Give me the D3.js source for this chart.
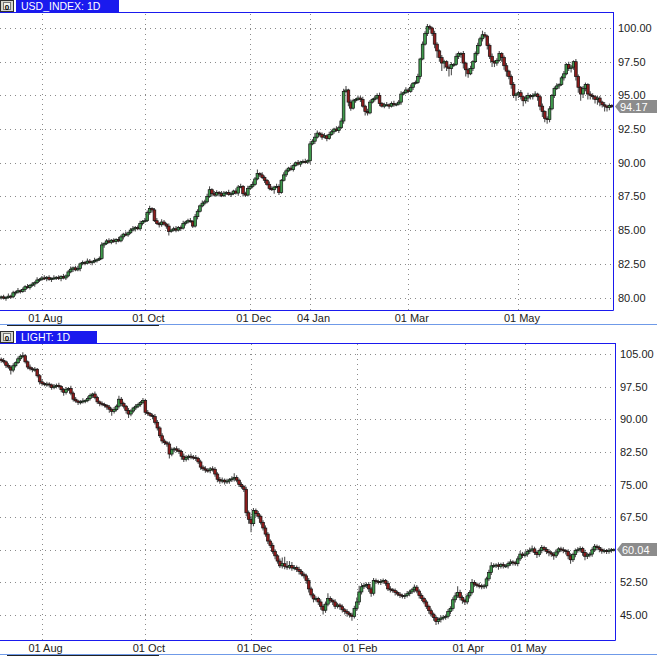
<!DOCTYPE html>
<html><head><meta charset="utf-8">
<script src="https://cdn.jsdelivr.net/npm/d3@7"></script>
<style>
body{margin:0;background:#fff}
svg{display:block}
text{font-family:"Liberation Sans",Arial,sans-serif}
</style>
</head><body>
<svg id="c" width="657" height="657"></svg>
<script>
// ---------------- USD_INDEX data ----------------
const usdTitle = "USD_INDEX: 1D";
const usdTickLabels = ["01 Aug","01 Oct","01 Dec","04 Jan","01 Mar","01 May"];
const usdTickIdx = [17,60,104,129,170,216];
const usdYTicks = [80,82.5,85,87.5,90,92.5,95,97.5,100];
const usdFirstOpen = 80.0;
const usdLast = 94.17;
const usdClose = [
80.05,79.95,80.00,80.10,80.05,80.35,80.40,80.50,80.45,80.60,
80.80,80.75,80.90,81.00,81.10,81.30,81.35,81.45,81.40,81.50,
81.35,81.40,81.45,81.50,81.40,81.55,81.45,81.60,81.90,82.10,
82.20,82.05,82.15,82.50,82.60,82.55,82.70,82.60,82.65,82.75,
82.80,82.90,83.90,84.00,84.20,84.10,84.25,84.15,84.30,84.20,
84.50,84.70,84.65,84.80,85.00,85.10,85.20,85.10,85.50,85.65,
85.70,86.30,86.60,86.50,85.70,85.50,85.40,85.60,85.45,85.30,
84.90,85.00,85.10,85.00,85.20,85.15,85.50,85.60,85.70,85.65,
85.30,86.00,86.40,86.80,87.00,87.10,87.50,88.00,87.70,87.60,
87.80,87.70,87.55,87.75,87.80,87.65,87.70,87.90,87.75,88.20,
88.25,87.70,87.60,88.10,88.25,88.40,88.80,89.20,89.10,88.90,
88.70,88.40,88.10,88.00,88.20,88.25,87.80,88.70,89.10,89.40,
89.60,89.50,89.80,90.00,89.90,90.05,90.10,90.05,90.15,91.40,
91.60,91.90,92.20,92.10,91.90,92.00,91.80,92.10,92.30,92.50,
92.40,92.60,93.10,95.30,95.40,94.50,94.05,94.60,94.70,94.80,
94.70,94.20,93.80,93.70,94.50,94.70,94.80,95.00,94.40,94.20,
94.30,94.30,94.20,94.40,94.30,94.35,94.50,95.10,95.20,95.40,
95.30,95.60,95.90,95.95,96.40,97.70,98.80,99.60,100.10,100.00,
99.60,98.80,98.30,97.80,97.40,97.50,97.10,97.00,97.30,97.30,
97.90,98.10,98.10,97.40,96.90,96.60,97.00,97.50,98.10,98.70,
99.20,99.50,99.40,98.70,97.90,97.50,97.40,97.60,98.10,97.80,
97.20,96.80,96.40,95.80,95.00,95.10,95.20,94.90,94.60,94.80,
95.00,94.90,95.00,95.10,94.90,94.20,93.80,93.30,93.20,94.00,
95.00,95.50,95.70,95.80,96.30,96.60,97.30,97.00,97.10,97.50,
96.40,95.60,95.10,95.50,95.80,95.10,95.00,94.90,94.70,94.80,
94.50,94.30,94.20,94.10,94.25,94.17];
const usdWickUp = [
.1,.15,.1,.2,.1,.15,.1,.2,.1,.15,
.1,.2,.1,.15,.1,.2,.1,.15,.2,.1,
.15,.1,.2,.1,.15,.1,.2,.1,.15,.2,
.1,.15,.2,.1,.15,.1,.2,.15,.1,.2,
.1,.15,.2,.1,.15,.2,.1,.15,.1,.2,
.15,.1,.2,.1,.15,.2,.1,.15,.2,.1,
.2,.15,.2,.1,.15,.2,.1,.2,.15,.1,
.2,.1,.15,.2,.1,.15,.2,.1,.15,.2,
.1,.2,.15,.1,.2,.15,.2,.25,.1,.2,
.15,.1,.2,.15,.1,.2,.15,.1,.2,.15,
.2,.1,.15,.2,.1,.2,.15,.3,.1,.2,
.15,.1,.2,.15,.1,.2,.15,.1,.2,.15,
.1,.2,.15,.1,.2,.1,.15,.2,.1,.2,
.15,.3,.2,.1,.15,.2,.1,.2,.15,.1,
.2,.15,.2,.2,.3,.1,.2,.15,.1,.2,
.15,.2,.1,.2,.15,.1,.2,.15,.2,.1,
.15,.2,.1,.15,.2,.1,.15,.2,.1,.2,
.15,.2,.1,.15,.2,.1,.2,.15,.2,.15,
.1,.2,.15,.1,.2,.15,.1,.2,.15,.1,
.2,.15,.1,.2,.1,.15,.2,.1,.15,.2,
.15,.3,.2,.1,.15,.2,.1,.15,.2,.1,
.15,.2,.1,.15,.2,.1,.15,.2,.1,.15,
.2,.1,.15,.2,.1,.15,.2,.1,.15,.2,
.1,.15,.2,.1,.15,.2,.1,.2,.15,.1,
.2,.15,.1,.2,.15,.1,.2,.15,.1,.2,
.15,.1,.2,.1,.15,.1];
const usdWickDn = [
.15,.1,.2,.1,.15,.1,.2,.1,.15,.1,
.2,.1,.15,.1,.2,.1,.15,.1,.1,.2,
.1,.2,.1,.15,.1,.2,.1,.15,.1,.1,
.2,.1,.1,.2,.1,.15,.1,.1,.2,.1,
.15,.1,.1,.2,.1,.1,.15,.1,.2,.1,
.1,.2,.1,.15,.1,.1,.2,.1,.1,.15,
.1,.1,.15,.2,.1,.1,.2,.15,.1,.2,
.3,.1,.1,.15,.1,.2,.1,.15,.1,.1,
.15,.1,.2,.1,.1,.15,.1,.1,.2,.1,
.1,.2,.1,.1,.15,.1,.2,.1,.1,.2,
.1,.2,.15,.1,.1,.15,.1,.1,.15,.1,
.2,.1,.15,.1,.3,.1,.2,.1,.1,.15,
.1,.1,.15,.1,.1,.2,.1,.1,.15,.2,
.1,.2,.1,.15,.2,.1,.2,.1,.1,.15,
.1,.2,.1,.2,.1,.3,.2,.1,.15,.1,
.2,.1,.3,.2,.1,.1,.15,.1,.2,.1,
.15,.1,.2,.1,.15,.1,.1,.2,.1,.1,
.15,.1,.2,.1,.1,.2,.1,.1,.2,.15,
.2,.3,.5,.3,.6,.4,.3,.6,.5,.2,
.1,.2,.3,.4,.5,.3,.1,.2,.1,.15,
.1,.2,.15,.3,.2,.4,.3,.2,.1,.3,
.3,.4,.2,.3,.2,.4,.3,.2,.4,.2,
.3,.2,.2,.1,.3,.3,.4,.3,.3,.2,
.1,.2,.1,.2,.1,.2,.1,.2,.3,.2,
.3,.4,.5,.3,.2,.4,.3,.2,.3,.4,
.3,.2,.4,.3,.2,.1];

// ---------------- LIGHT data ----------------
const oilTitle = "LIGHT: 1D";
const oilTickLabels = ["01 Aug","01 Oct","01 Dec","01 Feb","01 Apr","01 May"];
const oilTickIdx = [17,60,104,148,193,218];
const oilYTicks = [45,52.5,60,67.5,75,82.5,90,97.5,105];
const oilFirstOpen = 103.8;
const oilLast = 60.04;
const oilClose = [
103.5,103.2,102.4,102.0,101.3,102.3,103.0,103.9,104.5,104.6,
103.2,102.0,101.6,101.4,101.5,100.0,98.6,98.2,98.0,98.1,
97.9,97.3,97.6,97.8,97.5,96.8,96.2,96.9,97.1,96.0,
94.6,94.2,93.9,94.0,94.2,94.3,94.8,95.5,95.8,95.0,
94.0,93.6,93.4,93.2,92.8,92.3,91.8,92.2,93.0,94.6,
93.6,93.0,92.0,91.2,91.9,92.6,93.0,93.4,93.9,94.3,
91.6,91.3,90.9,90.6,89.3,88.0,86.2,85.0,84.6,84.3,
82.0,83.0,83.2,82.9,82.6,81.5,80.8,81.2,81.5,81.3,
81.2,81.0,80.2,79.0,78.6,78.3,78.2,78.6,78.5,77.4,
76.2,75.8,76.0,75.6,75.8,76.1,76.3,76.6,76.0,75.0,
74.5,73.9,68.5,67.0,66.0,69.0,68.3,67.7,66.3,65.0,
63.6,62.0,61.0,59.6,58.6,57.4,56.3,56.8,56.2,56.0,
56.4,55.8,55.9,55.5,55.0,54.4,54.0,52.9,51.0,49.6,
48.7,48.8,48.0,47.0,46.1,47.5,48.8,48.4,48.0,47.0,
47.3,46.9,46.2,45.8,45.4,45.0,44.7,46.5,48.0,50.3,
51.5,51.8,52.0,51.0,50.0,52.9,52.7,52.5,52.7,52.9,
52.3,51.0,50.8,50.6,50.2,49.8,49.5,49.3,49.5,49.9,
50.3,50.8,51.4,50.5,49.5,48.8,48.0,47.0,46.0,45.2,
44.4,43.5,44.0,44.3,44.5,44.7,45.8,46.5,48.5,49.4,
50.2,49.0,48.4,48.0,49.4,50.2,52.5,52.1,51.8,51.7,
51.5,51.7,53.3,54.8,56.3,56.4,56.5,56.2,56.6,56.3,
56.3,56.8,57.2,57.0,56.8,57.9,59.0,58.7,59.0,59.6,
59.9,60.2,59.4,58.9,59.8,60.5,60.1,59.6,59.3,59.0,
58.6,59.5,60.2,60.0,59.8,59.6,58.6,57.7,58.9,59.8,
60.0,60.3,59.4,58.5,58.8,59.0,60.0,60.8,60.5,60.1,
59.7,59.8,59.6,59.9,60.0,60.04];
const oilWickUp = [
.4,.6,.3,.5,.4,.6,.3,.5,.4,.8,
.4,.3,.6,.4,.5,.3,.4,.6,.3,.5,
.4,.3,.5,.4,.6,.3,.4,.5,.3,.6,
.4,.5,.3,.4,.6,.3,.5,.4,.3,.6,
.4,.3,.5,.4,.3,.5,.4,.6,.4,.8,
.5,.4,.3,.6,.4,.3,.5,.4,.3,.6,
.4,.5,.3,.4,.6,.5,.4,.6,.5,.4,
.6,.5,.4,.6,.5,.4,.6,.5,.4,.6,
.5,.6,.4,.5,.4,.6,.5,.4,.6,.5,
.4,.5,.6,.4,.5,.4,.6,1.0,.5,.4,
.5,.4,.6,.5,.7,.6,.5,.6,.4,.5,
.6,.5,.4,.6,.5,.4,.6,1.4,1.6,1.2,
1.0,.8,.6,.5,.6,.5,.4,.5,.6,.5,
.4,.5,.4,.6,.5,.6,1.2,.5,.4,.6,
.5,.4,.5,.4,.5,.4,.5,.6,1.0,1.4,
.8,.6,.5,.6,.5,.6,.5,.4,.6,.5,
.4,.5,.6,.4,.5,.4,.5,.4,.5,.6,
.5,.4,.6,.5,.4,.5,.4,.5,.4,.5,
.4,.5,.4,.6,.5,.4,.6,.5,.6,.8,
1.4,.6,.5,.4,.6,.5,.8,.5,.4,.6,
.5,.4,.5,.6,.8,.5,.4,.6,.4,.5,
.4,.5,.6,.4,.5,.6,.7,.5,.6,.5,
.6,.8,.5,.4,.5,.6,.4,.5,.6,.4,
.5,.6,.4,.5,.6,.4,.5,.6,.4,.5,
.6,.5,.4,.6,.5,.4,.6,.5,.4,.5,
.4,.5,.4,.5,.4,.3];
const oilWickDn = [
.5,.4,.6,.4,1.0,.5,.4,.3,.5,.4,
.4,.5,.4,.6,.5,.4,.6,.5,.4,.5,
.6,.5,.4,.5,.4,.6,.8,.5,.4,.5,
.5,.4,.6,.5,.4,.5,.4,.5,.6,.4,
.5,.6,.4,.5,.6,.8,1.0,.5,.4,.5,
.6,.5,.7,.9,.5,.4,.5,.4,.5,.4,
.6,.5,.4,.6,.5,.6,.5,.6,.5,.6,
1.0,.5,.6,.5,.6,.8,.6,.5,.6,.5,
.5,.6,.5,.6,.5,.6,.5,.6,.5,.6,
.7,.6,.5,.6,.5,.6,.5,.6,.5,.6,
.5,.6,.8,1.0,2.0,.6,.7,.6,.5,.6,
.6,.7,.6,.5,.8,.6,.5,.6,.7,.6,
.5,.6,.5,.6,.7,.5,.6,.7,.8,.6,
.8,.6,.7,.8,1.0,.6,.5,.6,.7,.6,
.5,.7,.6,.7,.8,.6,1.0,.5,.6,.7,
.6,.5,.6,.7,.8,.5,.6,.5,.6,.5,
.6,.5,.6,.5,.7,.5,.6,.5,.6,.5,
.6,.5,.6,.5,.7,.6,.5,.6,.7,.6,
.7,.8,.6,.7,.5,.6,.5,.6,.5,.6,
.5,.6,.8,.7,.5,.6,.5,.6,.5,.6,
.6,.5,.6,.5,.6,.5,.6,.8,.5,.6,
.5,.6,.5,.6,.5,.6,.5,.6,.5,.6,
.6,.5,.6,.8,.5,.6,.5,.6,.8,.6,
.9,.5,.6,.5,.6,.7,.8,.9,.5,.6,
.5,.6,.8,.9,.6,.5,.6,.5,.6,.7,
.6,.5,.6,.5,.6,.4];

// ---------------- drawing ----------------
const svg = d3.select("#c");
const W = 657;
const BLUE = "#1a1aee";

function panel(p, id) {
  const g = svg.append("g");
  const n = Math.min(p.close.length, p.wu.length, p.wd.length);
  const x = d3.scaleLinear().domain([-0.5, n - 0.5]).range([0, p.right]);
  const y = d3.scaleLinear().domain(p.yDomain).range(p.yRange);
  const ly = y(p.last);

  // header
  g.append("rect").attr("x", 0.5).attr("y", p.headY + 0.5).attr("width", 13).attr("height", 11)
    .attr("fill", "#d6d6cc").attr("stroke", "#303030");
  g.append("rect").attr("x", 3.5).attr("y", p.headY + 2.5).attr("width", 7).attr("height", 7)
    .attr("fill", "#f4f4ee").attr("stroke", "#777");
  g.append("text").attr("x", 7).attr("y", p.headY + 9.5).attr("text-anchor", "middle")
    .attr("font-size", 8).attr("font-weight", "bold").attr("fill", "#000").text("0");
  g.append("rect").attr("x", 16).attr("y", p.headY).attr("width", p.barW).attr("height", 12).attr("fill", BLUE);
  g.append("text").attr("x", 21).attr("y", p.headY + 10).attr("font-size", 10.5).attr("fill", "#fff").text(p.title);

  // grid
  const gx = g.append("g").attr("transform", `translate(0,${p.bottom})`)
    .call(d3.axisBottom(x).tickValues(p.tickIdx).tickSize(-(p.bottom - p.top)).tickFormat(""));
  gx.select(".domain").remove();
  gx.selectAll("line").attr("stroke", "#8a8a8a").attr("stroke-dasharray", "1,4").attr("shape-rendering", "crispEdges");
  const gy = g.append("g")
    .call(d3.axisLeft(y).tickValues(p.yTicks).tickSize(-p.right).tickFormat(""));
  gy.select(".domain").remove();
  gy.selectAll("line").attr("stroke", "#8a8a8a").attr("stroke-dasharray", "1,4").attr("shape-rendering", "crispEdges");

  // clip
  svg.append("defs").append("clipPath").attr("id", "clip" + id)
    .append("rect").attr("x", 0).attr("y", p.top + 1).attr("width", p.right).attr("height", p.bottom - p.top - 1);

  const data = d3.range(n).map(i => {
    const o = i === 0 ? p.firstOpen : p.close[i - 1];
    const c = p.close[i];
    return { i, o, c, h: Math.max(o, c) + p.wu[i], l: Math.min(o, c) - p.wd[i] };
  });
  const cg = g.append("g").attr("clip-path", `url(#clip${id})`);
  cg.selectAll("line.w").data(data).join("line").attr("class", "w")
    .attr("x1", d => x(d.i)).attr("x2", d => x(d.i))
    .attr("y1", d => y(d.h)).attr("y2", d => y(d.l))
    .attr("stroke", "#505050").attr("stroke-width", 1.1);
  cg.selectAll("rect.b").data(data).join("rect").attr("class", "b")
    .attr("x", d => x(d.i) - 1.35).attr("width", 2.7)
    .attr("y", d => y(Math.max(d.o, d.c)))
    .attr("height", d => Math.max(1, Math.abs(y(d.o) - y(d.c))))
    .attr("fill", d => d.c >= d.o ? "#3f9a4c" : "#8e1c1c")
    .attr("stroke", "#111").attr("stroke-width", 0.7);

  // borders
  g.append("line").attr("x1", 0).attr("x2", p.right + 0.5).attr("y1", p.top + 0.5).attr("y2", p.top + 0.5).attr("stroke", BLUE);
  g.append("line").attr("x1", 0).attr("x2", p.right + 0.5).attr("y1", p.bottom + 0.5).attr("y2", p.bottom + 0.5).attr("stroke", BLUE);
  g.append("line").attr("x1", p.right + 0.5).attr("x2", p.right + 0.5).attr("y1", p.top).attr("y2", p.bottom + 0.5).attr("stroke", BLUE);

  // y labels (the last-price tag covers any tick label lying under it)
  const labelTicks = p.yTicks.filter(t => Math.abs(y(t) - ly) > 9);
  const ay = g.append("g").attr("transform", `translate(${p.right},0)`)
    .call(d3.axisRight(y).tickValues(labelTicks).tickSize(0).tickPadding(5).tickFormat(d3.format(".2f")));
  ay.select(".domain").remove();
  ay.selectAll("text").attr("font-size", 11).attr("fill", "#222").attr("font-family", "Liberation Sans, Arial, sans-serif");

  // x labels
  const ax = g.append("g").attr("transform", `translate(0,${p.bottom})`)
    .call(d3.axisBottom(x).tickValues(p.tickIdx).tickSize(0).tickPadding(4)
      .tickFormat((d, k) => p.tickLabels[k]));
  ax.select(".domain").remove();
  ax.selectAll("text").attr("font-size", 11).attr("fill", "#222").attr("dx", 3)
    .attr("font-family", "Liberation Sans, Arial, sans-serif");

  // last price tag
  g.append("polygon")
    .attr("points", [[p.right + 2, ly], [p.right + 7, ly - 6.5], [W, ly - 6.5], [W, ly + 6.5], [p.right + 7, ly + 6.5]].map(q => q.join(",")).join(" "))
    .attr("fill", "#8c8c8c");
  g.append("text").attr("x", p.right + 7).attr("y", ly + 4).attr("font-size", 11).attr("fill", "#fff")
    .text(d3.format(".2f")(p.last));

  // separator under panel
  g.append("line").attr("x1", 0).attr("x2", W).attr("y1", p.sepY + 0.5).attr("y2", p.sepY + 0.5).attr("stroke", "#6f9ae8");
  g.append("line").attr("x1", 7).attr("x2", 159).attr("y1", p.sepY + 1.5).attr("y2", p.sepY + 1.5).attr("stroke", "#222");
}

panel({
  title: usdTitle, headY: 0, barW: 103, top: 12, bottom: 310, right: 613,
  yDomain: [80, 100], yRange: [297.5, 28], yTicks: usdYTicks,
  tickIdx: usdTickIdx, tickLabels: usdTickLabels,
  close: usdClose, wu: usdWickUp, wd: usdWickDn, firstOpen: usdFirstOpen, last: usdLast, sepY: 324
}, 1);

panel({
  title: oilTitle, headY: 331, barW: 81, top: 343, bottom: 640, right: 615,
  yDomain: [45, 105], yRange: [615, 354], yTicks: oilYTicks,
  tickIdx: oilTickIdx, tickLabels: oilTickLabels,
  close: oilClose, wu: oilWickUp, wd: oilWickDn, firstOpen: oilFirstOpen, last: oilLast, sepY: 654
}, 2);
</script>
</body></html>
